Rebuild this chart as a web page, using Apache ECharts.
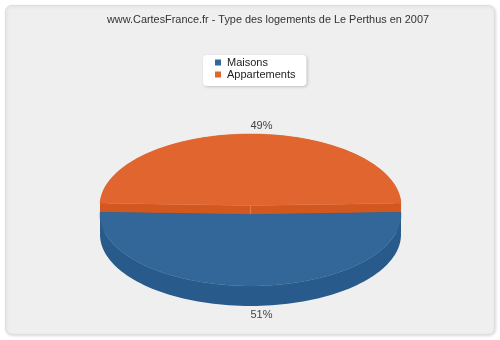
<!DOCTYPE html>
<html>
<head>
<meta charset="utf-8">
<script src="https://cdn.jsdelivr.net/npm/echarts@6/dist/echarts.min.js"></script>
<style>
html,body{margin:0;padding:0;background:#ffffff;}
#chart{width:500px;height:340px;}
</style>
</head>
<body>
<div id="chart"></div>
<script>
// ---- data ----
const titleText = 'www.CartesFrance.fr - Type des logements de Le Perthus en 2007';
const categories = ['Maisons', 'Appartements'];
const values = [51, 49];
const percentLabels = ['51%', '49%'];

// ---- styles ----
const topColors = ['#336699', '#E0652F'];
const sideColors = ['#285A8B', '#D3581F'];

// ---- geometry (layout) ----
const geo = { cx: 250.5, cy: 210, rx: 150.5, ry: 71.5, depth: 20, explode: 4.5 };
const total = values.reduce((a, b) => a + b, 0);
const startAngle = Math.PI / 2 - (values[0] / total) * Math.PI; // first slice centered at the bottom

function sliceStart(k) {
  let before = 0;
  for (let i = 0; i < k; i++) before += values[i];
  return startAngle + before / total * 2 * Math.PI;
}

function makeRender(k) {
  return function (params, api) {
    const val = api.value(0);
    const a = sliceStart(k);
    const b = a + val / total * 2 * Math.PI;
    const mid = (a + b) / 2;
    const ox = geo.cx;
    const oy = geo.cy + Math.sin(mid) * geo.explode;
    const d = geo.depth;
    const P = t => [ox + geo.rx * Math.cos(t), oy + geo.ry * Math.sin(t)];
    const N = 90;
    const arc = [];
    for (let i = 0; i <= N; i++) arc.push(P(a + (b - a) * i / N));
    const arcLow = arc.map(p => [p[0], p[1] + d]).reverse();
    const back = Math.sin(mid) < 0;
    const base = back ? 0 : 10;
    const side = { type: 'polygon', shape: { points: arc.concat(arcLow) }, style: { fill: sideColors[k] }, z2: base + (back ? 1 : 3) };
    const cut = t => {
      const p = P(t);
      return { type: 'polygon', shape: { points: [[ox, oy], p, [p[0], p[1] + d], [ox, oy + d]] }, style: { fill: sideColors[k] }, z2: base + 2 };
    };
    const top = { type: 'polygon', shape: { points: [[ox, oy]].concat(arc) }, style: { fill: topColors[k], stroke: topColors[k], lineWidth: 0.5 }, z2: base + 4 };
    const lp = P(mid);
    const ly = back ? lp[1] - 8 : lp[1] + d + 8.5;
    const label = { type: 'text', x: lp[0], y: ly, style: { text: percentLabels[k], fill: '#444', font: '11px "Liberation Sans", Arial, sans-serif', align: 'left', verticalAlign: 'middle' }, z2: 50 };
    return { type: 'group', children: [side, cut(a), cut(b), top, label] };
  };
}

const chart = echarts.init(document.getElementById('chart'), null, { renderer: 'canvas' });
const option = {
  animation: false,
  backgroundColor: '#ffffff',
  graphic: [{
    type: 'rect', z: 0, silent: true,
    shape: { x: 5.5, y: 5.5, width: 489, height: 329, r: 6 },
    style: { fill: '#efefef', stroke: '#dedede', lineWidth: 1, shadowBlur: 3, shadowColor: 'rgba(0,0,0,0.12)', shadowOffsetX: 1, shadowOffsetY: 1 }
  }],
  title: {
    text: titleText, left: 102, top: 9,
    textStyle: { fontSize: 10.9, fontWeight: 'normal', color: '#333', fontFamily: '"Liberation Sans", Arial, sans-serif' }
  },
  legend: {
    data: categories, orient: 'vertical', left: 203, top: 55,
    icon: 'rect', itemWidth: 6, itemHeight: 6, itemGap: 1,
    padding: [2, 11, 6, 12],
    backgroundColor: '#ffffff', borderRadius: 4,
    shadowBlur: 3, shadowColor: 'rgba(0,0,0,0.2)', shadowOffsetX: 1, shadowOffsetY: 1,
    textStyle: { fontSize: 11, color: '#222', fontFamily: '"Liberation Sans", Arial, sans-serif', lineHeight: 11, padding: [0, 0, 0, 1] }
  },
  series: categories.map((name, k) => ({
    type: 'custom', name: name, coordinateSystem: 'none',
    color: topColors[k],
    renderItem: makeRender(k),
    data: [[values[k]]]
  }))
};
chart.setOption(option);
</script>
</body>
</html>
